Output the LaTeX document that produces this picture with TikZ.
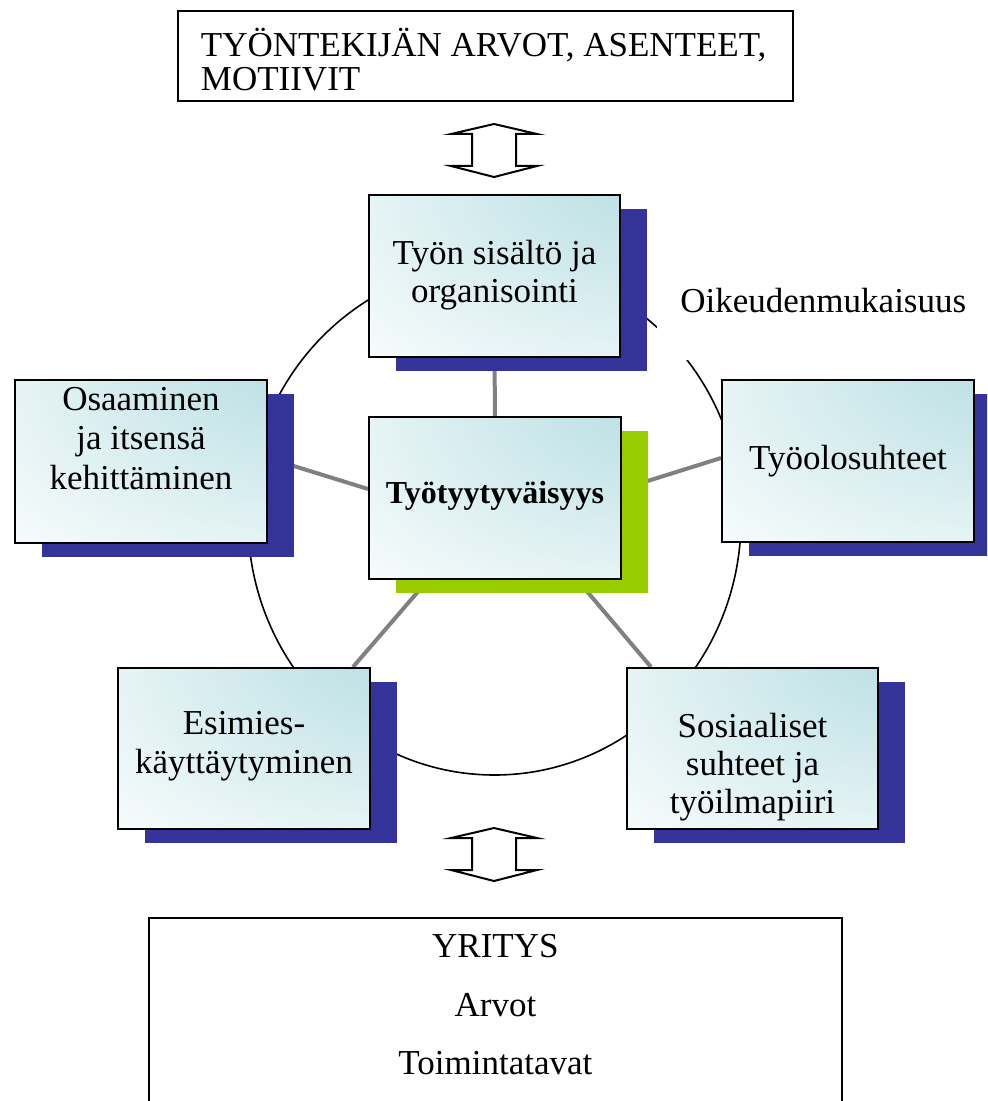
\documentclass[tikz,border=0pt]{standalone}
\usepackage{fontspec}
\setmainfont{Liberation Serif}
\usetikzlibrary{shadows,calc}
\definecolor{glowc}{RGB}{187,224,228}
\definecolor{navyshadow}{RGB}{51,51,153}
\definecolor{limeshadow}{RGB}{153,204,0}
\definecolor{spokegray}{RGB}{128,128,128}
% light cyan glow in the upper right corner of each card, fading to white
\pgfdeclareradialshading{cornerglow}{\pgfpoint{50bp}{50bp}}{color(0bp)=(glowc); color(18bp)=(glowc); color(68bp)=(white); color(100bp)=(white)}
\newcommand\cstack[1]{\begin{tabular}[t]{@{}c@{}}#1\end{tabular}}
\newcommand\lstack[1]{\begin{tabular}[t]{@{}l@{}}#1\end{tabular}}
\pgfdeclarelayer{background}
\pgfsetlayers{background,main}
\begin{document}
\begin{tikzpicture}[x=0.5pt,y=-0.5pt,
  every node/.style={inner sep=0pt},
  txt/.style={font=\fontsize{17.5pt}{19.5pt}\selectfont},
  card/.style={txt, draw=black, line width=1pt, shade, shading=cornerglow,
    minimum width=126pt, anchor=north west},
  blueshadow/.style={drop shadow={shadow xshift=13.5pt, shadow yshift=-7pt,
    fill=navyshadow, opacity=1}},
  greenshadow/.style={drop shadow={shadow xshift=13.5pt, shadow yshift=-7pt,
    fill=limeshadow, opacity=1}},
  spoke/.style={draw=spokegray, line width=2pt},
  plainbox/.style={txt, draw=black, line width=0.9pt, fill=white, anchor=north west},
  updown/.pic={
    \draw[line width=1pt, fill=white, line join=miter]
      (0,-26.5) -- (-43,-16.5) -- (-22,-16.5) -- (-22,15.5) -- (-43,15.5)
      -- (0,26.5) -- (43,15.5) -- (22,15.5) -- (22,-16.5) -- (43,-16.5) -- cycle;
  },
]
\useasboundingbox (0,0) rectangle (987,1101);
\clip (0,0) rectangle (987,1101);

% header box
\node[plainbox, inner xsep=11.5pt, text height=23pt, text depth=22pt,
  font=\fontsize{17.5pt}{17pt}\selectfont] (values) at (177,10)
  {\makebox[284.5pt][l]{\lstack{TYÖNTEKIJÄN ARVOT, ASENTEET,\\MOTIIVIT}}};

\pic (arrowtop) at (494,150.5) {updown};
\pic (arrowbottom) at (494,854.5) {updown};

% cards
\node[card, blueshadow, minimum width=125.5pt, text height=35pt, text depth=46pt,
  font=\fontsize{17.5pt}{19pt}\selectfont] (content) at (368,194)
  {\cstack{Työn sisältö ja\\organisointi}};
\node[card, greenshadow, text height=43pt, text depth=38pt,
  font=\fontsize{16pt}{19pt}\selectfont\bfseries] (sat) at (368,416)
  {Työtyytyväisyys};
\node[card, blueshadow, text height=15pt, text depth=66.5pt,
  font=\fontsize{17.5pt}{19.75pt}\selectfont] (skills) at (14,379)
  {\cstack{Osaaminen\\ja itsensä\\kehittäminen}};
\node[card, blueshadow, text height=44.5pt, text depth=36.5pt] (conditions) at (721,379)
  {Työolosuhteet};
\node[card, blueshadow, text height=33pt, text depth=47.5pt] (boss) at (117,667)
  {\cstack{Esimies-\\käyttäytyminen}};
\node[card, blueshadow, minimum width=125.5pt, text height=34.5pt, text depth=46pt,
  font=\fontsize{17.5pt}{19pt}\selectfont] (social) at (626,667)
  {\cstack{Sosiaaliset\\suhteet ja\\työilmapiiri}};

% label on the ring
\node[txt, fill=white, anchor=base west, inner xsep=11.5pt, text depth=23.5pt]
  (fair) at (657,313) {Oikeudenmukaisuus};

% company box
\node[plainbox, minimum width=346.5pt, text height=20pt, text depth=81.5pt,
  font=\fontsize{17.5pt}{29.25pt}\selectfont] (firm) at (148,917)
  {\cstack{YRITYS\\Arvot\\Toimintatavat}};

\begin{pgfonlayer}{background}
  \coordinate (ringc) at (494.5,519.5);
  \draw[line width=0.8pt] (ringc) ellipse [x radius=246.5, y radius=255.5];
  \draw[spoke] (content.south) -- (sat.north);
  \draw[spoke] ($(skills.east)+(0,-3.5)$) -- ($(sat.west)+(0,-9)$);
  \draw[spoke] ($(sat.east)+(0,-9)$) -- ($(conditions.west)+(0,-3)$);
  \draw[spoke] ($(sat.south)+(-67,0)$) -- ($(boss.north)+(109,0)$);
  \draw[spoke] ($(sat.south)+(82.4,0)$) -- ($(social.north)+(-101.5,0)$);
\end{pgfonlayer}
\end{tikzpicture}
\end{document}
